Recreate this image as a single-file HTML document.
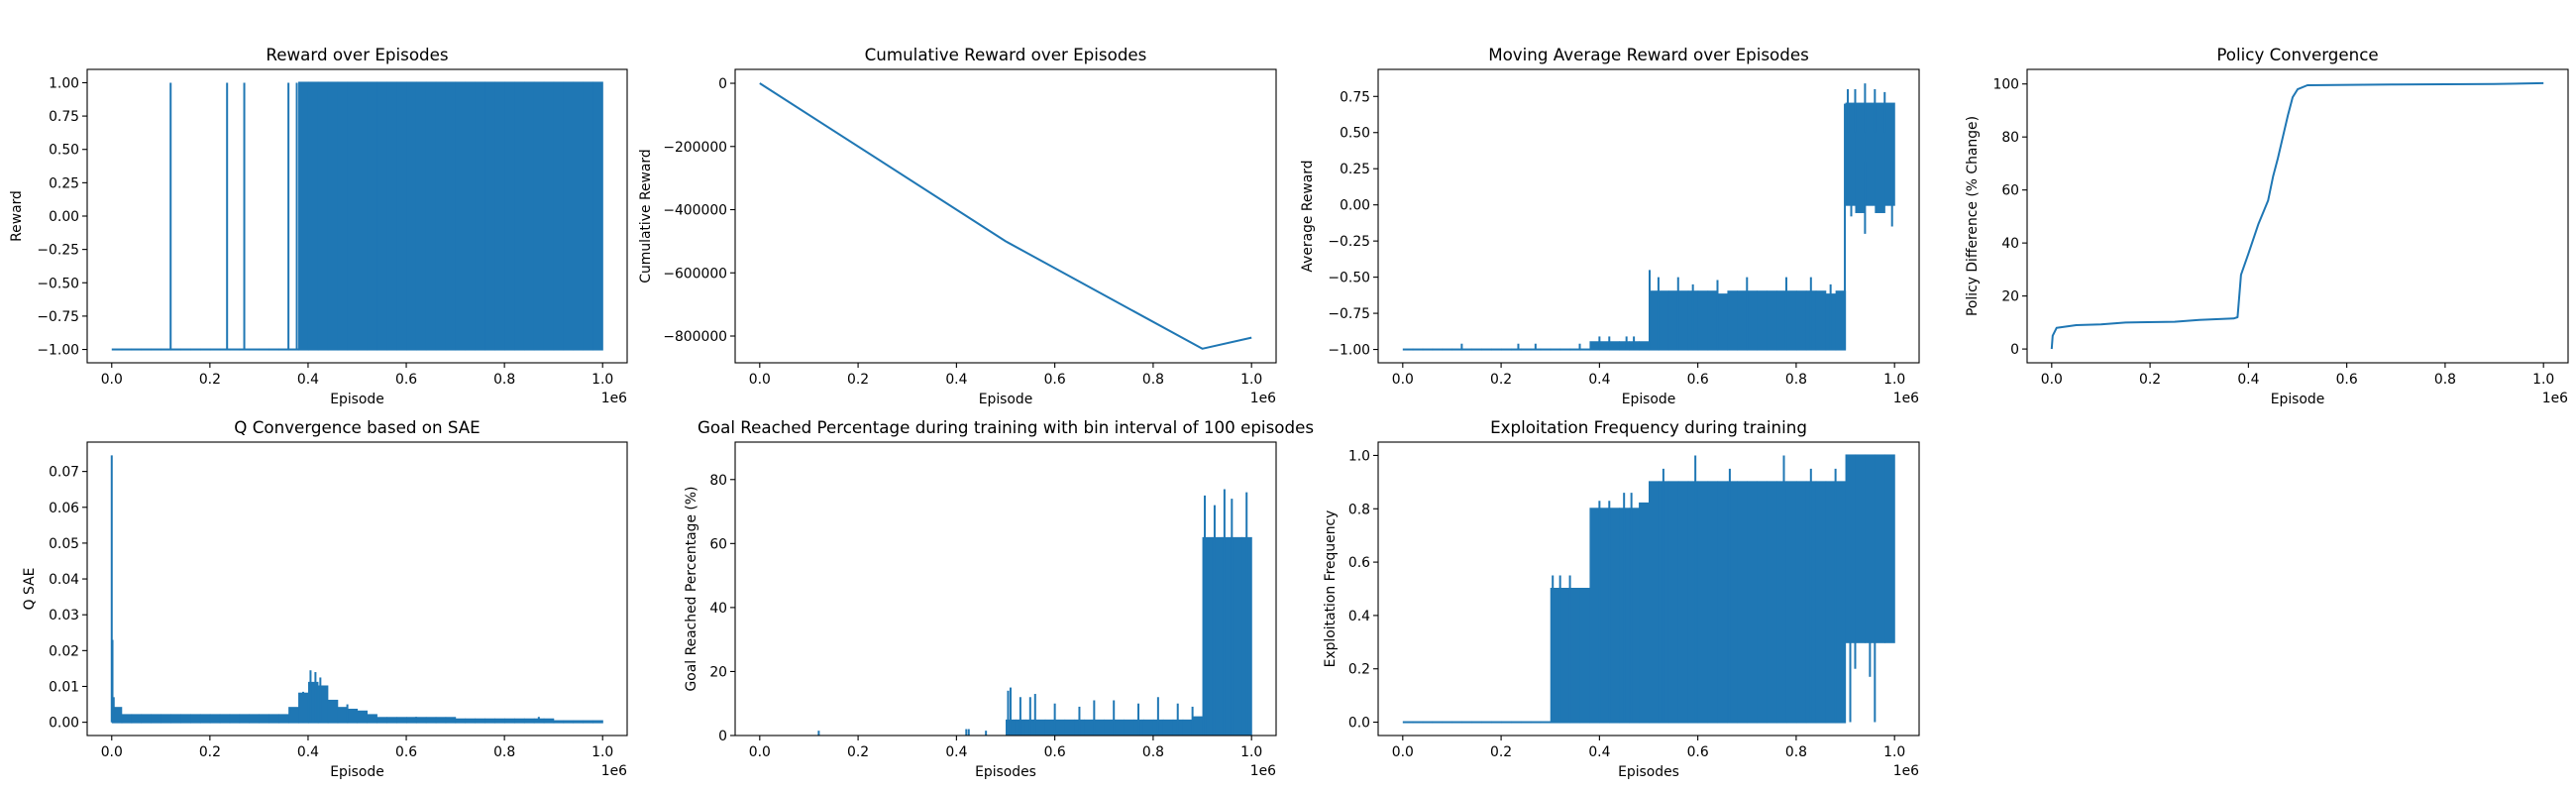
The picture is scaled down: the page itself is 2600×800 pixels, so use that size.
<!DOCTYPE html>
<html><head><meta charset="utf-8"><title>Training metrics</title>
<style>
html,body{margin:0;padding:0;background:#fff;}
svg{display:block;font-family:"DejaVu Sans","Liberation Sans",sans-serif;}
</style></head>
<body>
<svg id="fig" width="2600" height="800" viewBox="0 0 2600 800" xmlns="http://www.w3.org/2000/svg">
<rect width="2600" height="800" fill="#fff"/>
<text x="1300" y="-4" font-size="16.7" text-anchor="middle">Training Metrics over Episodes</text>
</svg>
<script>
// ---------- data ----------
const xTicks = [0, 200000, 400000, 600000, 800000, 1000000];
const xTickLabels = ["0.0","0.2","0.4","0.6","0.8","1.0"];
const binWidth = 20000;

// Reward over Episodes
const rewardHi = [-1,-1,-1,-1,-1,-1,-1,-1,-1,-1,-1,-1,-1,-1,-1,-1,-1,-1,-1,1,1,1,1,1,1,1,1,1,1,1,1,1,1,1,1,1,1,1,1,1,1,1,1,1,1,1,1,1,1,1];
const rewardLo = [-1,-1,-1,-1,-1,-1,-1,-1,-1,-1,-1,-1,-1,-1,-1,-1,-1,-1,-1,-1,-1,-1,-1,-1,-1,-1,-1,-1,-1,-1,-1,-1,-1,-1,-1,-1,-1,-1,-1,-1,-1,-1,-1,-1,-1,-1,-1,-1,-1,-1];
const rewardSpikeX = [120000, 235000, 270000, 360000, 377000];
const rewardSpikeFrom = [-1, -1, -1, -1, -1];
const rewardSpikeTo = [1, 1, 1, 1, 1];
const rewardYTicks = [-1,-0.75,-0.5,-0.25,0,0.25,0.5,0.75,1];
const rewardYLabels = ["\u22121.00","\u22120.75","\u22120.50","\u22120.25","0.00","0.25","0.50","0.75","1.00"];

// Cumulative reward
const cumX = [0, 500000, 900000, 1000000];
const cumY = [0, -500000, -840000, -805000];
const cumYTicks = [0,-200000,-400000,-600000,-800000];
const cumYLabels = ["0","\u2212200000","\u2212400000","\u2212600000","\u2212800000"];

// Moving average reward
const maHi = [-1,-1,-1,-1,-1,-1,-1,-1,-1,-1,-1,-1,-1,-1,-1,-1,-1,-1,-1,-0.95,-0.95,-0.95,-0.95,-0.95,-0.95,-0.6,-0.6,-0.6,-0.6,-0.6,-0.6,-0.6,-0.62,-0.6,-0.6,-0.6,-0.6,-0.6,-0.6,-0.6,-0.6,-0.6,-0.6,-0.62,-0.6,0.7,0.7,0.7,0.7,0.7];
const maLo = [-1,-1,-1,-1,-1,-1,-1,-1,-1,-1,-1,-1,-1,-1,-1,-1,-1,-1,-1,-1,-1,-1,-1,-1,-1,-1,-1,-1,-1,-1,-1,-1,-1,-1,-1,-1,-1,-1,-1,-1,-1,-1,-1,-1,-1,0.0,-0.05,0.0,-0.05,0.0];
const maSpikeX = [120000,235000,270000,360000,400000,420000,455000,470000,502000,520000,560000,590000,640000,700000,780000,830000,870000,899000,905000,920000,940000,960000,980000,940000,995000,912000];
const maSpikeFrom = [-1,-1,-1,-1,-1,-1,-1,-1,-1,-1,-1,-1,-1,-1,-1,-1,-1,-1,0.5,0.5,0.5,0.5,0.5,0.3,0.3,0.3];
const maSpikeTo = [-0.96,-0.96,-0.96,-0.96,-0.91,-0.91,-0.91,-0.91,-0.45,-0.5,-0.5,-0.55,-0.52,-0.5,-0.5,-0.5,-0.55,0.7,0.8,0.8,0.84,0.8,0.78,-0.2,-0.15,-0.08];
const maYTicks = [-1,-0.75,-0.5,-0.25,0,0.25,0.5,0.75];
const maYLabels = ["\u22121.00","\u22120.75","\u22120.50","\u22120.25","0.00","0.25","0.50","0.75"];

// Policy convergence
const polX = [0,2000,10000,50000,100000,150000,250000,300000,370000,378000,385000,400000,420000,440000,450000,460000,470000,480000,490000,500000,520000,700000,900000,1000000];
const polY = [0,5,8,9,9.3,10,10.3,11,11.5,12,28,36,47,56,65,72,80,88,95,98,99.5,99.8,100,100.3];
const polYTicks = [0,20,40,60,80,100];
const polYLabels = ["0","20","40","60","80","100"];

// Q convergence
const qHi = [0.004,0.002,0.002,0.002,0.002,0.002,0.002,0.002,0.002,0.002,0.002,0.002,0.002,0.002,0.002,0.002,0.002,0.002,0.004,0.008,0.011,0.01,0.006,0.004,0.0035,0.003,0.002,0.0012,0.0012,0.0012,0.0012,0.0012,0.0012,0.0012,0.0012,0.0008,0.0008,0.0008,0.0008,0.0008,0.0008,0.0008,0.0008,0.0008,0.0008,0.0003,0.0003,0.0003,0.0003,0.0003];
const qSpikeX = [0,1500,4000,390000,405000,415000,425000,480000,620000,870000];
const qSpikeTo = [0.0745,0.023,0.007,0.0085,0.0145,0.014,0.0125,0.005,0.0015,0.0015];
const qYTicks = [0,0.01,0.02,0.03,0.04,0.05,0.06,0.07];
const qYLabels = ["0.00","0.01","0.02","0.03","0.04","0.05","0.06","0.07"];

// Goal reached percentage
const goalFill = [0,0,0,0,0,0,0,0,0,0,0,0,0,0,0,0,0,0,0,0,0,0,0,0,0,5,5,5,5,5,5,5,5,5,5,5,5,5,5,5,5,5,5,5,6,62,62,62,62,62];
const goalPeakX = [120000,420000,425000,460000,505000,510000,530000,550000,560000,600000,650000,680000,720000,770000,810000,850000,880000,905000,925000,945000,960000,990000];
const goalPeakY = [1.5,2,2,1.5,14,15,12,12,13,10,9,11,11,10,12,10,9,75,72,77,74,76];
const goalYTicks = [0,20,40,60,80];
const goalYLabels = ["0","20","40","60","80"];

// Exploitation frequency
const exHi = [0,0,0,0,0,0,0,0,0,0,0,0,0,0,0,0.5,0.5,0.5,0.5,0.8,0.8,0.8,0.8,0.8,0.82,0.9,0.9,0.9,0.9,0.9,0.9,0.9,0.9,0.9,0.9,0.9,0.9,0.9,0.9,0.9,0.9,0.9,0.9,0.9,0.9,1,1,1,1,1];
const exLo = [0,0,0,0,0,0,0,0,0,0,0,0,0,0,0,0,0,0,0,0,0,0,0,0,0,0,0,0,0,0,0,0,0,0,0,0,0,0,0,0,0,0,0,0,0,0.3,0.3,0.3,0.3,0.3];
const exSpikeX = [305000,320000,340000,400000,420000,450000,465000,530000,595000,665000,775000,830000,880000,910000,920000,960000,950000];
const exSpikeFrom = [0,0,0,0,0,0,0,0,0,0,0,0,0,0.3,0.3,0.3,0.3];
const exSpikeTo = [0.55,0.55,0.55,0.83,0.83,0.86,0.86,0.95,1.0,0.95,1.0,0.95,0.95,0,0.2,0,0.17];
const exYTicks = [0,0.2,0.4,0.6,0.8,1.0];
const exYLabels = ["0.0","0.2","0.4","0.6","0.8","1.0"];

// ---------- rendering ----------
const NS = "http://www.w3.org/2000/svg";
const svg = document.getElementById("fig");
const BLUE = "#1f77b4";
function mk(tag, attrs, parent) {
  const e = document.createElementNS(NS, tag);
  for (const k in attrs) e.setAttribute(k, attrs[k]);
  (parent || svg).appendChild(e);
  return e;
}
function makeAxes(c) {
  const g = mk("g", {});
  
  
  const sx = v => c.l + (v - c.xmin) / (c.xmax - c.xmin) * (c.r - c.l);
  const sy = v => c.b - (v - c.ymin) / (c.ymax - c.ymin) * (c.b - c.t);
  const plot = mk("g", {}, g);
  
  
  return {sx, sy, plot, g, c};
}
function finishAxes(ax) {
  const {sx, sy, g, c} = ax;
  const frame = mk("rect", {x:c.l, y:c.t, width:c.r-c.l, height:c.b-c.t, fill:"none", stroke:"#000", "stroke-width":1.1}, g);
  
  
  xTicks.forEach((v, i) => {
    const x = sx(v);
    mk("line", {x1:x, x2:x, y1:c.b, y2:c.b+5, stroke:"#000", "stroke-width":1.1}, g);
    const t = mk("text", {x:x, y:c.b+21, "font-size":13.9, "text-anchor":"middle"}, g);
    
    
    t.textContent = xTickLabels[i];
  });
  c.yticks.forEach((v, i) => {
    const y = sy(v);
    mk("line", {x1:c.l-5, x2:c.l, y1:y, y2:y, stroke:"#000", "stroke-width":1.1}, g);
    const t = mk("text", {x:c.l-8, y:y+5, "font-size":13.9, "text-anchor":"end"}, g);
    
    
    t.textContent = c.ylabels[i];
  });
  const off = mk("text", {x:c.r, y:c.b+40, "font-size":13.9, "text-anchor":"end"}, g);
  
  
  off.textContent = "1e6";
  const xl = mk("text", {x:(c.l+c.r)/2, y:c.b+41, "font-size":13.9, "text-anchor":"middle"}, g);
  
  
  xl.textContent = c.xlabel;
  const yc = (c.t + c.b) / 2;
  const yl = mk("text", {x:c.ylx, y:yc, "font-size":13.9, "text-anchor":"middle", transform:`rotate(-90 ${c.ylx} ${yc})`}, g);
  
  
  yl.textContent = c.ylabel;
  const tt = mk("text", {x:(c.l+c.r)/2, y:c.t-9, "font-size":16.7, "text-anchor":"middle"}, g);
  
  
  tt.textContent = c.title;
}
function band(ax, hi, lo, nm) {
  for (let i = 0; i < hi.length; i++) {
    const x0 = ax.sx(i * binWidth), x1 = ax.sx((i + 1) * binWidth);
    const yh = ax.sy(hi[i]), yl = ax.sy(lo[i]);
    const top = Math.min(yh, yl) - 1, h = Math.abs(yl - yh) + 2;
    const r = mk("rect", {x:x0, y:top, width:x1-x0+0.6, height:h, fill:BLUE}, ax.plot);
    
    
  }
}
function spikes(ax, xs, from, to, nm) {
  for (let i = 0; i < xs.length; i++) {
    const x = ax.sx(xs[i]);
    const l = mk("line", {x1:x, x2:x, y1:ax.sy(from[i]), y2:ax.sy(to[i]), stroke:BLUE, "stroke-width":2}, ax.plot);
    
    
  }
}
function line(ax, xs, ys, nm) {
  const pts = xs.map((x, i) => ax.sx(x).toFixed(1) + "," + ax.sy(ys[i]).toFixed(1)).join(" ");
  const p = mk("polyline", {points:pts, fill:"none", stroke:BLUE, "stroke-width":2, "stroke-linejoin":"round"}, ax.plot);
  
  
}
const XMIN = -50000, XMAX = 1050000;

let a = makeAxes({name:"reward-chart", l:88, r:633, t:70, b:366, xmin:XMIN, xmax:XMAX, ymin:-1.1, ymax:1.1,
  yticks:rewardYTicks, ylabels:rewardYLabels, title:"Reward over Episodes", xlabel:"Episode", ylabel:"Reward", ylx:21});
band(a, rewardHi, rewardLo, "reward-bin");
spikes(a, rewardSpikeX, rewardSpikeFrom, rewardSpikeTo, "reward-spike");
finishAxes(a);

a = makeAxes({name:"cumulative-reward-chart", l:742, r:1288, t:70, b:366, xmin:XMIN, xmax:XMAX, ymin:-884700, ymax:44000,
  yticks:cumYTicks, ylabels:cumYLabels, title:"Cumulative Reward over Episodes", xlabel:"Episode", ylabel:"Cumulative Reward", ylx:656});
line(a, cumX, cumY, "cumulative-reward-line");
finishAxes(a);

a = makeAxes({name:"moving-average-chart", l:1391, r:1937, t:70, b:366, xmin:XMIN, xmax:XMAX, ymin:-1.0922, ymax:0.937,
  yticks:maYTicks, ylabels:maYLabels, title:"Moving Average Reward over Episodes", xlabel:"Episode", ylabel:"Average Reward", ylx:1324});
band(a, maHi, maLo, "moving-average-bin");
spikes(a, maSpikeX, maSpikeFrom, maSpikeTo, "moving-average-spike");
finishAxes(a);

a = makeAxes({name:"policy-convergence-chart", l:2046, r:2592, t:70, b:366, xmin:XMIN, xmax:XMAX, ymin:-5.2, ymax:105.5,
  yticks:polYTicks, ylabels:polYLabels, title:"Policy Convergence", xlabel:"Episode", ylabel:"Policy Difference (% Change)", ylx:1995});
line(a, polX, polY, "policy-difference-line");
finishAxes(a);

a = makeAxes({name:"q-convergence-chart", l:88, r:633, t:446, b:742, xmin:XMIN, xmax:XMAX, ymin:-0.0037, ymax:0.0782,
  yticks:qYTicks, ylabels:qYLabels, title:"Q Convergence based on SAE", xlabel:"Episode", ylabel:"Q SAE", ylx:34});
band(a, qHi, qHi.map(() => 0), "q-sae-bin");
spikes(a, qSpikeX, qSpikeX.map(() => 0), qSpikeTo, "q-sae-spike");
finishAxes(a);

a = makeAxes({name:"goal-reached-chart", l:742, r:1288, t:446, b:742, xmin:XMIN, xmax:XMAX, ymin:0, ymax:91.7,
  yticks:goalYTicks, ylabels:goalYLabels, title:"Goal Reached Percentage during training with bin interval of 100 episodes", xlabel:"Episodes", ylabel:"Goal Reached Percentage (%)", ylx:702});
for (let i = 0; i < goalFill.length; i++) {
  if (goalFill[i] <= 0) continue;
  const x0 = a.sx(i * binWidth), x1 = a.sx((i + 1) * binWidth);
  const r = mk("rect", {x:x0, y:a.sy(goalFill[i]), width:x1-x0+0.6, height:a.sy(0)-a.sy(goalFill[i]), fill:BLUE}, a.plot);
  
  
}
spikes(a, goalPeakX, goalPeakX.map(() => 0), goalPeakY, "goal-bar-peak");
finishAxes(a);

a = makeAxes({name:"exploitation-chart", l:1391, r:1937, t:446, b:742, xmin:XMIN, xmax:XMAX, ymin:-0.05, ymax:1.05,
  yticks:exYTicks, ylabels:exYLabels, title:"Exploitation Frequency during training", xlabel:"Episodes", ylabel:"Exploitation Frequency", ylx:1347});
band(a, exHi, exLo, "exploitation-bin");
spikes(a, exSpikeX, exSpikeFrom, exSpikeTo, "exploitation-spike");
finishAxes(a);
</script>
</body></html>
